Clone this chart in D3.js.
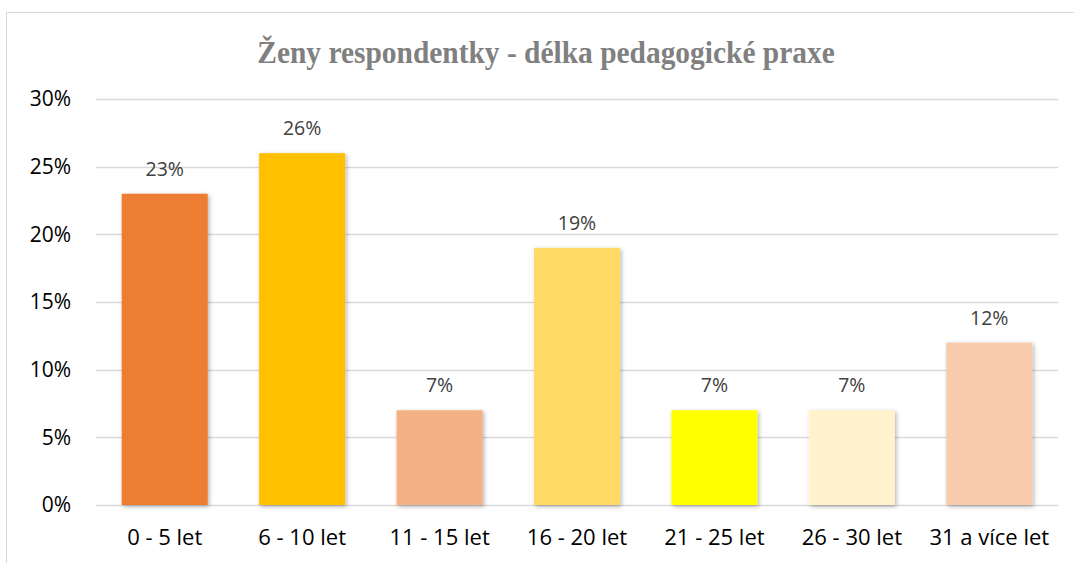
<!DOCTYPE html>
<html>
<head>
<meta charset="utf-8">
<script src="https://cdn.jsdelivr.net/npm/d3@7"></script>
<style>
  body { margin: 0; background: #fff; }
  svg { display: block; }
</style>
</head>
<body>
<div id="chart"></div>
<script>
// DATA
const categories = ["0 - 5 let", "6 - 10 let", "11 - 15 let", "16 - 20 let", "21 - 25 let", "26 - 30 let", "31 a více let"];
const values = [0.23, 0.26, 0.07, 0.19, 0.07, 0.07, 0.12];
const barColors = ["#ED7D31", "#FFC000", "#F4B183", "#FFD966", "#FFFF00", "#FFF2CC", "#F8CBAD"];
const yTicks = [0, 0.05, 0.10, 0.15, 0.20, 0.25, 0.30];
const title = "Ženy respondentky - délka pedagogické praxe";

// SIZE
const width = 1074;
const height = 563;
const margin = {top: 99, right: 16, bottom: 58, left: 96};

const svg = d3.select("#chart")
    .append("svg")
    .attr("width", width)
    .attr("height", height);

// shadow under bars
const defs = svg.append("defs");
const shadow = defs.append("filter")
    .attr("id", "shadow")
    .attr("x", "-10%").attr("y", "-10%")
    .attr("width", "130%").attr("height", "130%");
shadow.append("feDropShadow")
    .attr("dx", 1.5).attr("dy", 1.5)
    .attr("stdDeviation", 2)
    .attr("flood-color", "#000")
    .attr("flood-opacity", 0.3);

// chart frame
svg.append("path")
    .attr("d", `M6.5,${height} V12.5 H${width}`)
    .attr("fill", "none")
    .attr("stroke", "#d9d9d9")
    .attr("stroke-width", 1);

// SCALES
const xScale = d3.scaleBand()
    .domain(categories)
    .range([margin.left, width - margin.right])
    .paddingInner(0.374)
    .paddingOuter(0.187);

const yScale = d3.scaleLinear()
    .domain([0, 0.30])
    .range([height - margin.bottom, margin.top]);

// GRIDLINES
svg.append("g")
    .selectAll("line")
    .data(yTicks)
    .join("line")
    .attr("x1", margin.left)
    .attr("x2", width - margin.right)
    .attr("y1", d => Math.round(yScale(d)) + 0.5)
    .attr("y2", d => Math.round(yScale(d)) + 0.5)
    .attr("stroke", "#d9d9d9")
    .attr("stroke-width", 1.3);

// Y AXIS
const yAxis = d3.axisLeft(yScale)
    .tickValues(yTicks)
    .tickFormat(d3.format(".0%"))
    .tickSize(0)
    .tickPadding(25);

const yAxisGroup = svg.append("g")
    .attr("transform", `translate(${margin.left},0)`)
    .call(yAxis);
yAxisGroup.select(".domain").remove();
yAxisGroup.selectAll("text")
    .attr("font-family", "'Open Sans', sans-serif")
    .attr("font-size", 21)
    .attr("fill", "#000");

// X AXIS
const xAxis = d3.axisBottom(xScale)
    .tickSize(0)
    .tickPadding(24);

const xAxisGroup = svg.append("g")
    .attr("transform", `translate(0,${height - margin.bottom})`)
    .call(xAxis);
xAxisGroup.select(".domain").remove();
xAxisGroup.selectAll("text")
    .attr("font-family", "'Open Sans', sans-serif")
    .attr("font-size", 22)
    .attr("fill", "#000");

// BARS
svg.append("g")
    .selectAll("rect")
    .data(values)
    .join("rect")
    .attr("x", (d, i) => xScale(categories[i]))
    .attr("y", d => yScale(d))
    .attr("width", xScale.bandwidth())
    .attr("height", d => yScale(0) - yScale(d))
    .attr("fill", (d, i) => barColors[i])
    .attr("filter", "url(#shadow)");

// DATA LABELS
svg.append("g")
    .selectAll("text")
    .data(values)
    .join("text")
    .attr("x", (d, i) => xScale(categories[i]) + xScale.bandwidth() / 2)
    .attr("y", d => yScale(d) - 18)
    .attr("text-anchor", "middle")
    .attr("font-family", "'Open Sans', sans-serif")
    .attr("font-size", 19.5)
    .attr("fill", "#404040")
    .text(d => d3.format(".0%")(d));

// TITLE
svg.append("text")
    .attr("transform", `translate(546,63) scale(0.92,1)`)
    .attr("text-anchor", "middle")
    .attr("font-family", "'Liberation Serif', serif")
    .attr("font-weight", "bold")
    .attr("font-size", 32)
    .attr("fill", "#808080")
    .text(title);
</script>
</body>
</html>
